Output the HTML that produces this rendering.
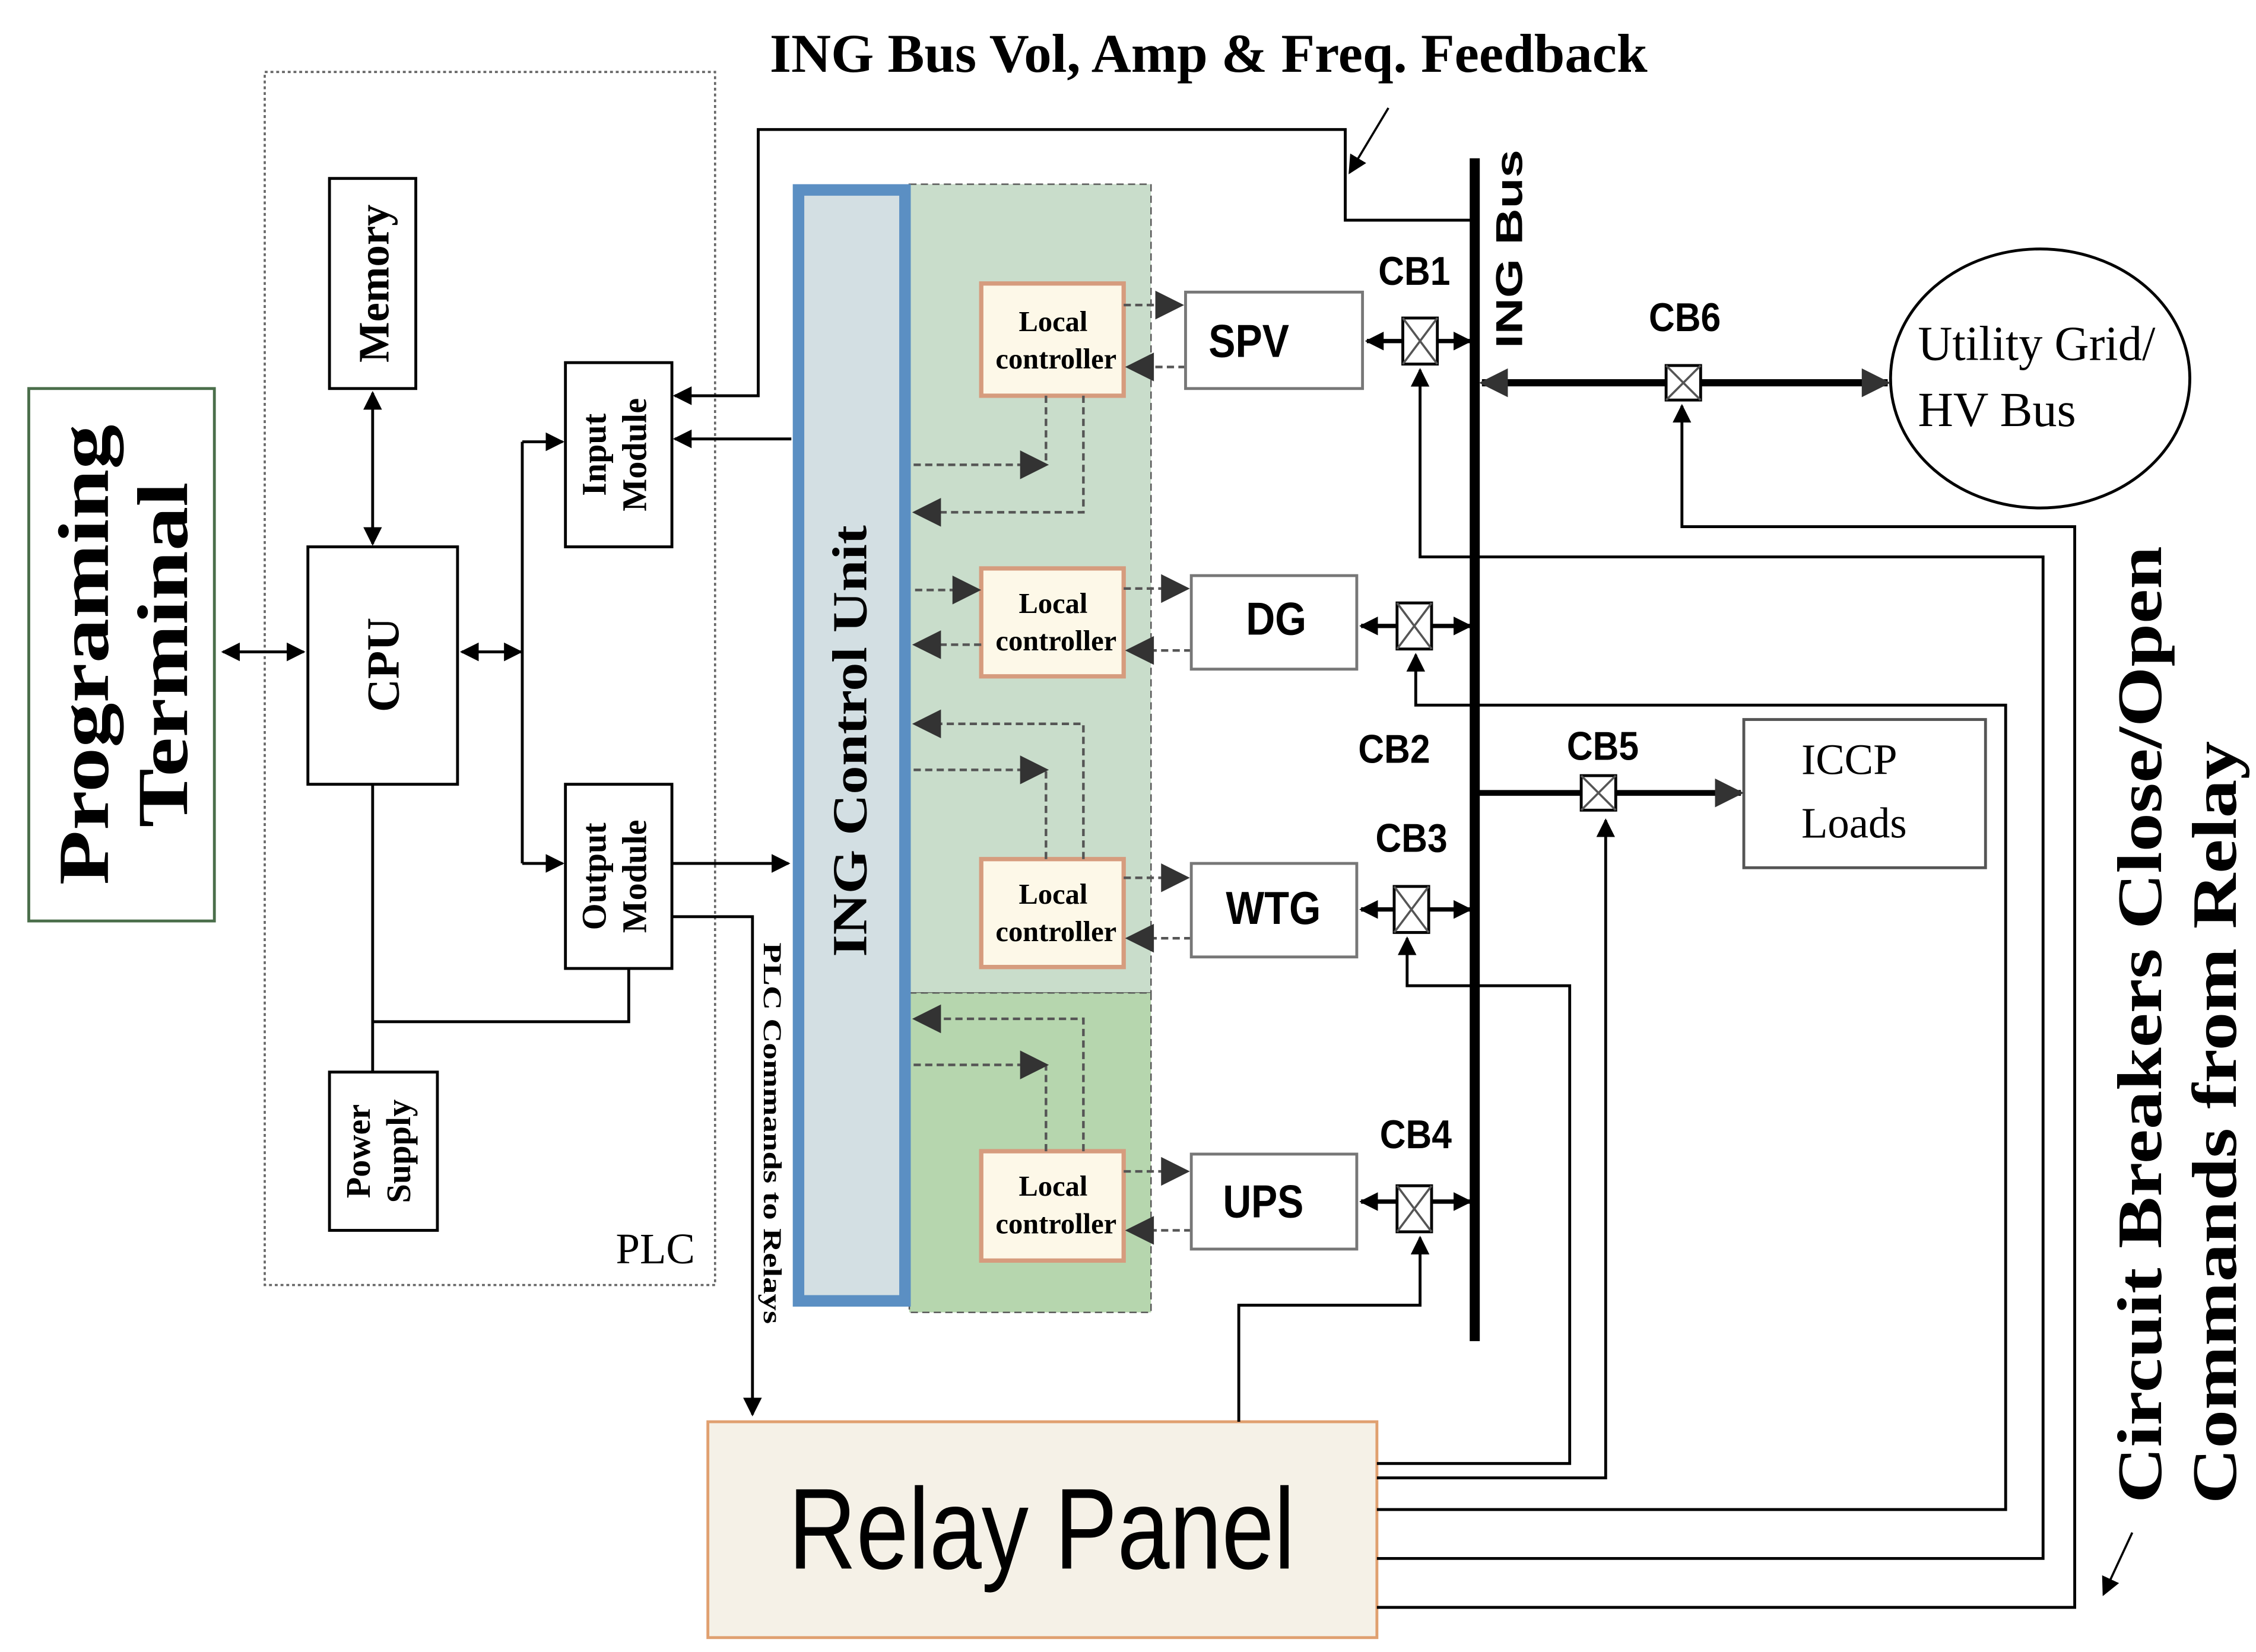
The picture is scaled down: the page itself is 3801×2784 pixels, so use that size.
<!DOCTYPE html>
<html><head><meta charset="utf-8"><style>
html,body{margin:0;padding:0;background:#fff}
svg{display:block}
.s{font-family:"Liberation Serif",serif;font-weight:bold;fill:#000}
.a{font-family:"Liberation Sans",sans-serif;fill:#000}
</style></head><body>
<svg width="3801" height="2784" viewBox="0 0 1568 1148" preserveAspectRatio="none" xmlns="http://www.w3.org/2000/svg">
<defs>
<marker id="ar" viewBox="0 0 10 10" refX="9" refY="5" markerUnits="userSpaceOnUse" markerWidth="13" markerHeight="13" orient="auto-start-reverse"><path d="M0,0L10,5L0,10z" fill="#000"/></marker>
<marker id="ag" viewBox="0 0 10 10" refX="9" refY="5" markerUnits="userSpaceOnUse" markerWidth="14" markerHeight="14" orient="auto-start-reverse"><path d="M0,0L10,5L0,10z" fill="#333"/></marker>
<marker id="ak" viewBox="0 0 10 10" refX="9" refY="5" markerUnits="userSpaceOnUse" markerWidth="24" markerHeight="20" orient="auto-start-reverse"><path d="M0,0L10,5L0,10z" fill="#333"/></marker>
</defs>
<rect width="1568" height="1148" fill="#fff"/>
<text x="535" y="50" class="s" font-size="38" textLength="610" lengthAdjust="spacingAndGlyphs">ING Bus Vol, Amp &amp; Freq. Feedback</text>
<rect x="20" y="270" width="129" height="370" fill="#fff" stroke="#4a6e4a" stroke-width="2"/>
<text class="s" font-size="50" text-anchor="middle" transform="translate(75,455) rotate(-90)" textLength="320" lengthAdjust="spacingAndGlyphs">Programing</text>
<text class="s" font-size="50" text-anchor="middle" transform="translate(130,455) rotate(-90)" textLength="240" lengthAdjust="spacingAndGlyphs">Terminal</text>
<rect x="184" y="50" width="313" height="843" fill="none" stroke="#666" stroke-width="1.5" stroke-dasharray="2,2"/>
<text x="428" y="878" font-family="Liberation Serif,serif" font-size="30">PLC</text>
<g fill="#fff" stroke="#000" stroke-width="2">
<rect x="229" y="124" width="60" height="146"/>
<rect x="214" y="380" width="104" height="165"/>
<rect x="393" y="252" width="74" height="128"/>
<rect x="393" y="545" width="74" height="128"/>
<rect x="229" y="745" width="75" height="110"/>
</g>
<text class="s" font-size="30" text-anchor="middle" transform="translate(270,197) rotate(-90)">Memory</text>
<text class="s" font-size="32" text-anchor="middle" transform="translate(277,462) rotate(-90)">CPU</text>
<text class="s" font-size="24" text-anchor="middle" transform="translate(421,316) rotate(-90)">Input</text>
<text class="s" font-size="24" text-anchor="middle" transform="translate(449,316) rotate(-90)">Module</text>
<text class="s" font-size="24" text-anchor="middle" transform="translate(421,609) rotate(-90)">Output</text>
<text class="s" font-size="24" text-anchor="middle" transform="translate(449,609) rotate(-90)">Module</text>
<text class="s" font-size="24" text-anchor="middle" transform="translate(257,800) rotate(-90)">Power</text>
<text class="s" font-size="24" text-anchor="middle" transform="translate(285,800) rotate(-90)">Supply</text>
<g stroke="#000" stroke-width="2" fill="none">
<line x1="155" y1="453" x2="211" y2="453" marker-start="url(#ar)" marker-end="url(#ar)"/>
<line x1="259" y1="273" x2="259" y2="378" marker-start="url(#ar)" marker-end="url(#ar)"/>
<line x1="321" y1="453" x2="362" y2="453" marker-start="url(#ar)" marker-end="url(#ar)"/>
<line x1="363" y1="307" x2="363" y2="600"/>
<line x1="363" y1="307" x2="391" y2="307" marker-end="url(#ar)"/>
<line x1="363" y1="600" x2="391" y2="600" marker-end="url(#ar)"/>
<line x1="259" y1="545" x2="259" y2="745"/>
<polyline points="259,710 437,710 437,673"/>
<polyline points="1025,153 935,153 935,90 527,90 527,275 469,275" marker-end="url(#ar)"/>
<line x1="550" y1="305" x2="469" y2="305" marker-end="url(#ar)"/>
<line x1="467" y1="600" x2="548" y2="600" marker-end="url(#ar)"/>
<polyline points="467,637 523,637 523,983" marker-end="url(#ar)"/>
<line x1="965" y1="75" x2="938" y2="120" marker-end="url(#ar)" stroke-width="1.5"/>
<line x1="1482" y1="1065" x2="1462" y2="1108" marker-end="url(#ar)" stroke-width="1.5"/>
</g>
<text class="s" font-size="18" transform="translate(531,655) rotate(90)" textLength="265" lengthAdjust="spacingAndGlyphs">PLC Commands to Relays</text>
<rect x="632" y="128" width="168" height="562" fill="#c9ddcb" stroke="#555" stroke-dasharray="5,3"/>
<rect x="632" y="690" width="168" height="222" fill="#b6d6ae" stroke="#555" stroke-dasharray="5,3"/>
<rect x="555" y="132" width="74" height="772" fill="#d3dfe3" stroke="#5b8fc3" stroke-width="8"/>
<text class="s" font-size="34" text-anchor="middle" transform="translate(602,515) rotate(-90)" textLength="300" lengthAdjust="spacingAndGlyphs">ING Control Unit</text>
<g fill="#fdf8e8" stroke="#d69c7e" stroke-width="3">
<rect x="682" y="197" width="99" height="78"/>
<rect x="682" y="395" width="99" height="75"/>
<rect x="682" y="597" width="99" height="75"/>
<rect x="682" y="800" width="99" height="76"/>
</g>
<g font-family="Liberation Serif,serif" font-size="20" text-anchor="middle" font-weight="bold">
<text x="732" y="230">Local</text><text x="734" y="256">controller</text>
<text x="732" y="426">Local</text><text x="734" y="452">controller</text>
<text x="732" y="628">Local</text><text x="734" y="654">controller</text>
<text x="732" y="831">Local</text><text x="734" y="857">controller</text>
</g>
<g stroke="#555" stroke-width="1.8" stroke-dasharray="5,3" fill="none">
<line x1="781" y1="212" x2="821" y2="212" marker-end="url(#ak)"/>
<line x1="824" y1="255" x2="784" y2="255" marker-end="url(#ak)"/>
<line x1="781" y1="409" x2="825" y2="409" marker-end="url(#ak)"/>
<line x1="828" y1="452" x2="784" y2="452" marker-end="url(#ak)"/>
<line x1="781" y1="610" x2="825" y2="610" marker-end="url(#ak)"/>
<line x1="828" y1="652" x2="784" y2="652" marker-end="url(#ak)"/>
<line x1="781" y1="814" x2="825" y2="814" marker-end="url(#ak)"/>
<line x1="828" y1="855" x2="784" y2="855" marker-end="url(#ak)"/>
<polyline points="727,275 727,323"/><line x1="635" y1="323" x2="727" y2="323" marker-end="url(#ak)"/>
<polyline points="753,275 753,356 636,356" marker-end="url(#ak)"/>
<line x1="636" y1="410" x2="680" y2="410" marker-end="url(#ak)"/>
<line x1="682" y1="448" x2="636" y2="448" marker-end="url(#ak)"/>
<polyline points="753,597 753,503 636,503" marker-end="url(#ak)"/>
<polyline points="727,597 727,535"/><line x1="635" y1="535" x2="727" y2="535" marker-end="url(#ak)"/>
<polyline points="753,800 753,708 636,708" marker-end="url(#ak)"/>
<polyline points="727,800 727,740"/><line x1="635" y1="740" x2="727" y2="740" marker-end="url(#ak)"/>
</g>
<g fill="#fff" stroke="#777" stroke-width="2">
<rect x="824" y="203" width="123" height="67"/>
<rect x="828" y="400" width="115" height="65"/>
<rect x="828" y="600" width="115" height="65"/>
<rect x="828" y="802" width="115" height="66"/>
<rect x="1212" y="500" width="168" height="103" stroke="#555"/>
</g>
<g class="a" font-size="32" font-weight="bold">
<text x="840" y="248" textLength="56" lengthAdjust="spacingAndGlyphs">SPV</text>
<text x="866" y="441" textLength="42" lengthAdjust="spacingAndGlyphs">DG</text>
<text x="852" y="642" textLength="66" lengthAdjust="spacingAndGlyphs">WTG</text>
<text x="850" y="846" textLength="56" lengthAdjust="spacingAndGlyphs">UPS</text>
</g>
<text x="1252" y="538" font-family="Liberation Serif,serif" font-size="30">ICCP</text>
<text x="1252" y="582" font-family="Liberation Serif,serif" font-size="30">Loads</text>
<ellipse cx="1418" cy="263" rx="104" ry="90" fill="#fff" stroke="#000" stroke-width="2"/>
<text x="1333" y="250" font-family="Liberation Serif,serif" font-size="34" textLength="165" lengthAdjust="spacingAndGlyphs">Utility Grid/</text>
<text x="1333" y="296" font-family="Liberation Serif,serif" font-size="34">HV Bus</text>
<line x1="1025" y1="110" x2="1025" y2="932" stroke="#000" stroke-width="7"/>
<text class="a" font-size="26" font-weight="bold" transform="translate(1058,242) rotate(-90)" textLength="138" lengthAdjust="spacingAndGlyphs">ING Bus</text>
<g stroke="#000" stroke-width="3" fill="none">
<line x1="975" y1="237" x2="950" y2="237" marker-end="url(#ar)"/><line x1="999" y1="237" x2="1022" y2="237" marker-end="url(#ar)"/>
<line x1="971" y1="435" x2="946" y2="435" marker-end="url(#ar)"/><line x1="995" y1="435" x2="1022" y2="435" marker-end="url(#ar)"/>
<line x1="969" y1="632" x2="946" y2="632" marker-end="url(#ar)"/><line x1="993" y1="632" x2="1022" y2="632" marker-end="url(#ar)"/>
<line x1="971" y1="835" x2="946" y2="835" marker-end="url(#ar)"/><line x1="995" y1="835" x2="1022" y2="835" marker-end="url(#ar)"/>
<line x1="1158" y1="266" x2="1030" y2="266" stroke-width="5" marker-end="url(#ak)"/>
<line x1="1182" y1="266" x2="1312" y2="266" stroke-width="5" marker-end="url(#ak)"/>
<line x1="1028" y1="551" x2="1099" y2="551" stroke-width="4"/>
<line x1="1123" y1="551" x2="1210" y2="551" stroke-width="4" marker-end="url(#ak)"/>
</g>
<g fill="#fff" stroke="#000" stroke-width="2">
<rect x="975" y="221" width="24" height="32"/><rect x="971" y="419" width="24" height="32"/>
<rect x="969" y="616" width="24" height="32"/><rect x="971" y="824" width="24" height="32"/>
<rect x="1158" y="254" width="24" height="24"/><rect x="1099" y="539" width="24" height="24"/>
</g>
<g stroke="#555" stroke-width="1.5">
<path d="M975,221L999,253M999,221L975,253"/><path d="M971,419L995,451M995,419L971,451"/>
<path d="M969,616L993,648M993,616L969,648"/><path d="M971,824L995,856M995,824L971,856"/>
<path d="M1158,254L1182,278M1182,254L1158,278"/><path d="M1099,539L1123,563M1123,539L1099,563"/>
</g>
<g class="a" font-size="28" font-weight="bold">
<text x="958" y="198" textLength="50" lengthAdjust="spacingAndGlyphs">CB1</text><text x="1146" y="230" textLength="50" lengthAdjust="spacingAndGlyphs">CB6</text>
<text x="944" y="530" textLength="50" lengthAdjust="spacingAndGlyphs">CB2</text><text x="1089" y="528" textLength="50" lengthAdjust="spacingAndGlyphs">CB5</text>
<text x="956" y="592" textLength="50" lengthAdjust="spacingAndGlyphs">CB3</text><text x="959" y="798" textLength="50" lengthAdjust="spacingAndGlyphs">CB4</text>
</g>
<rect x="492" y="988" width="465" height="150" fill="#f5f1e7" stroke="#e0a070" stroke-width="2"/>
<text x="548" y="1090" class="a" font-size="80" textLength="352" lengthAdjust="spacingAndGlyphs">Relay Panel</text>
<g stroke="#000" stroke-width="2" fill="none">
<polyline points="957,1017 1091,1017 1091,685 978,685 978,652" marker-end="url(#ar)"/>
<polyline points="957,1027 1116,1027 1116,570" marker-end="url(#ar)"/>
<polyline points="957,1049 1394,1049 1394,490 984,490 984,455" marker-end="url(#ar)"/>
<polyline points="957,1083 1420,1083 1420,387 987,387 987,257" marker-end="url(#ar)"/>
<polyline points="957,1117 1442,1117 1442,366 1169,366 1169,282" marker-end="url(#ar)"/>
<polyline points="861,988 861,907 987,907 987,860" marker-end="url(#ar)"/>
</g>
<text class="s" font-size="44" text-anchor="middle" transform="translate(1502,712) rotate(-90)" textLength="665" lengthAdjust="spacingAndGlyphs">Circuit Breakers Close/Open</text>
<text class="s" font-size="44" text-anchor="middle" transform="translate(1554,780) rotate(-90)" textLength="530" lengthAdjust="spacingAndGlyphs">Commands from Relay</text>
</svg>
</body></html>
